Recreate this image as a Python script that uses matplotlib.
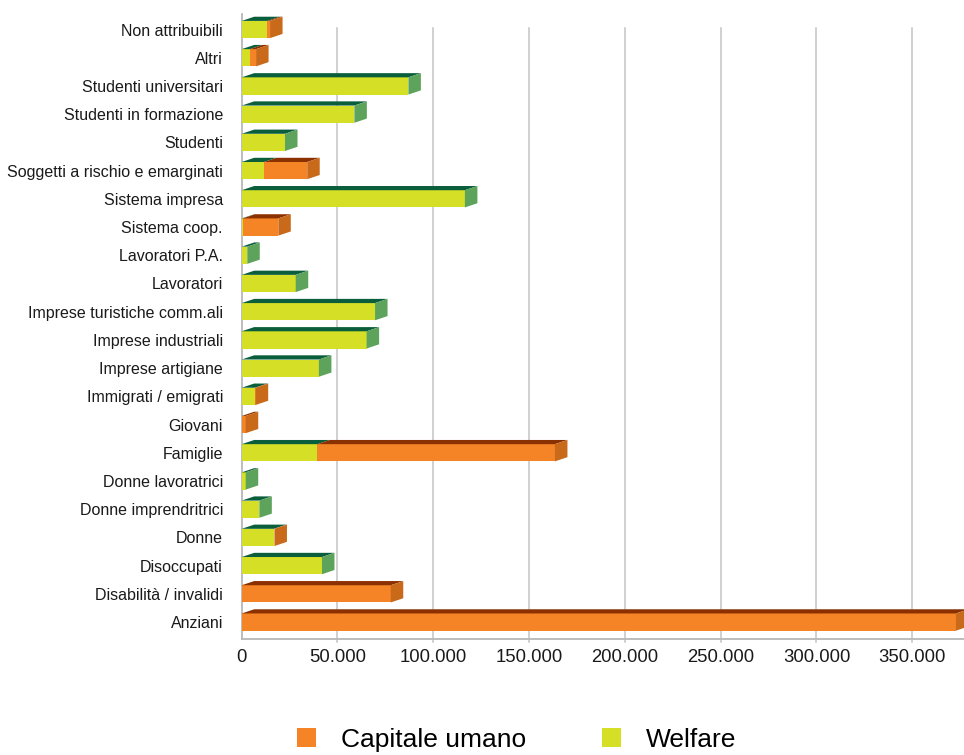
import matplotlib
matplotlib.use("Agg")
import matplotlib.pyplot as plt
from matplotlib.patches import Polygon, Patch
from matplotlib.ticker import FuncFormatter
import numpy as np

plt.rcParams['font.family'] = ['Liberation Sans', 'DejaVu Sans']

categories = ["Non attribuibili", "Altri", "Studenti universitari", "Studenti in formazione",
              "Studenti", "Soggetti a rischio e emarginati", "Sistema impresa", "Sistema coop.",
              "Lavoratori P.A.", "Lavoratori", "Imprese turistiche comm.ali", "Imprese industriali",
              "Imprese artigiane", "Immigrati / emigrati", "Giovani", "Famiglie",
              "Donne lavoratrici", "Donne imprendritrici", "Donne", "Disoccupati",
              "Disabilità / invalidi", "Anziani"]
welfare = [13400, 4300, 87000, 58800, 22600, 11600, 116500, 500, 2900, 28200, 69600, 65200,
           40300, 6900, 0, 39500, 2100, 9200, 16700, 41900, 0, 0]
capitale = [1400, 3200, 0, 0, 0, 22600, 0, 18600, 0, 0, 0, 0,
            0, 400, 2100, 124000, 0, 0, 400, 0, 77800, 372800]
xticks = [0, 50000, 100000, 150000, 200000, 250000, 300000, 350000]

# colours
C_W_FRONT, C_W_TOP, C_W_SIDE = "#D4DF26", "#0B5E3C", "#5DA35B"
C_C_FRONT, C_C_TOP, C_C_SIDE = "#F58426", "#8B3000", "#C96A1B"

W, H, DPI = 964, 755, 100
fig = plt.figure(figsize=(W / DPI, H / DPI), dpi=DPI)
left_px, right_px, bottom_px, top_px = 241.7, 964, 639, 14
ax = fig.add_axes([left_px / W, (H - bottom_px) / H, (right_px - left_px) / W, (bottom_px - top_px) / H])

n = len(categories)
ypos = np.arange(n)[::-1].astype(float)
bar_h = 0.61
xmax = 377000
ymax = 21.55
ax.set_xlim(0, xmax)
ax.set_ylim(-0.6, ymax)

# depth offsets (in data units, derived from pixel sizes)
px_per_x = (right_px - left_px) / xmax
px_per_y = (bottom_px - top_px) / (ymax + 0.6)
dx = 12.5 / px_per_x
dy = 4.2 / px_per_y

# gridlines
for t in xticks[1:]:
    ax.plot([t, t], [-0.72, 21.04], color="#C4C4C4", lw=1.1, zorder=1, clip_on=False)

welfare = np.array(welfare, dtype=float)
capitale = np.array(capitale, dtype=float)

ax.barh(ypos, welfare, height=bar_h, color=C_W_FRONT, zorder=3, linewidth=0)
ax.barh(ypos, capitale, left=welfare, height=bar_h, color=C_C_FRONT, zorder=3, linewidth=0)

for y, w, c in zip(ypos, welfare, capitale):
    yt = y + bar_h / 2
    yb = y - bar_h / 2
    segs = [(0, w, C_W_TOP, C_W_SIDE), (w, w + c, C_C_TOP, C_C_SIDE)]
    last_side = None
    for x0, x1, ctop, cside in segs:
        if x1 - x0 <= 0:
            continue
        ax.add_patch(Polygon([(x0, yt), (x1, yt), (x1 + dx, yt + dy), (x0 + dx, yt + dy)],
                             closed=True, facecolor=ctop, edgecolor='none', zorder=4, clip_on=False))
        last_side = cside
    xe = w + c
    if last_side is not None:
        ax.add_patch(Polygon([(xe, yb), (xe, yt), (xe + dx, yt + dy), (xe + dx, yb + dy)],
                             closed=True, facecolor=last_side, edgecolor='none', zorder=4, clip_on=True))

ax.set_yticks(ypos)
ax.set_yticklabels(categories, fontsize=11.5, color="#1a1a1a")
ax.set_xticks(xticks)
ax.xaxis.set_major_formatter(FuncFormatter(lambda v, p: f"{int(v):,}".replace(",", ".")))
ax.tick_params(axis='x', length=0, pad=7, labelsize=13.3, labelcolor="#1a1a1a")
ax.tick_params(axis='y', length=0, pad=13.5)

for s in ['top', 'right']:
    ax.spines[s].set_visible(False)
for s in ['left', 'bottom']:
    ax.spines[s].set_color("#B8B8B8")
    ax.spines[s].set_linewidth(1.3)

handles = [Patch(facecolor=C_C_FRONT, edgecolor='none'), Patch(facecolor=C_W_FRONT, edgecolor='none')]
fig.legend(handles, ["Capitale umano", "Welfare"], loc='center', bbox_to_anchor=(516.7 / W, (H - 740) / H),
           ncol=2, frameon=False, fontsize=19, handlelength=0.72, handleheight=0.72,
           handletextpad=0.92, columnspacing=2.9, borderpad=0, borderaxespad=0)

fig.savefig("out.png", dpi=DPI)
